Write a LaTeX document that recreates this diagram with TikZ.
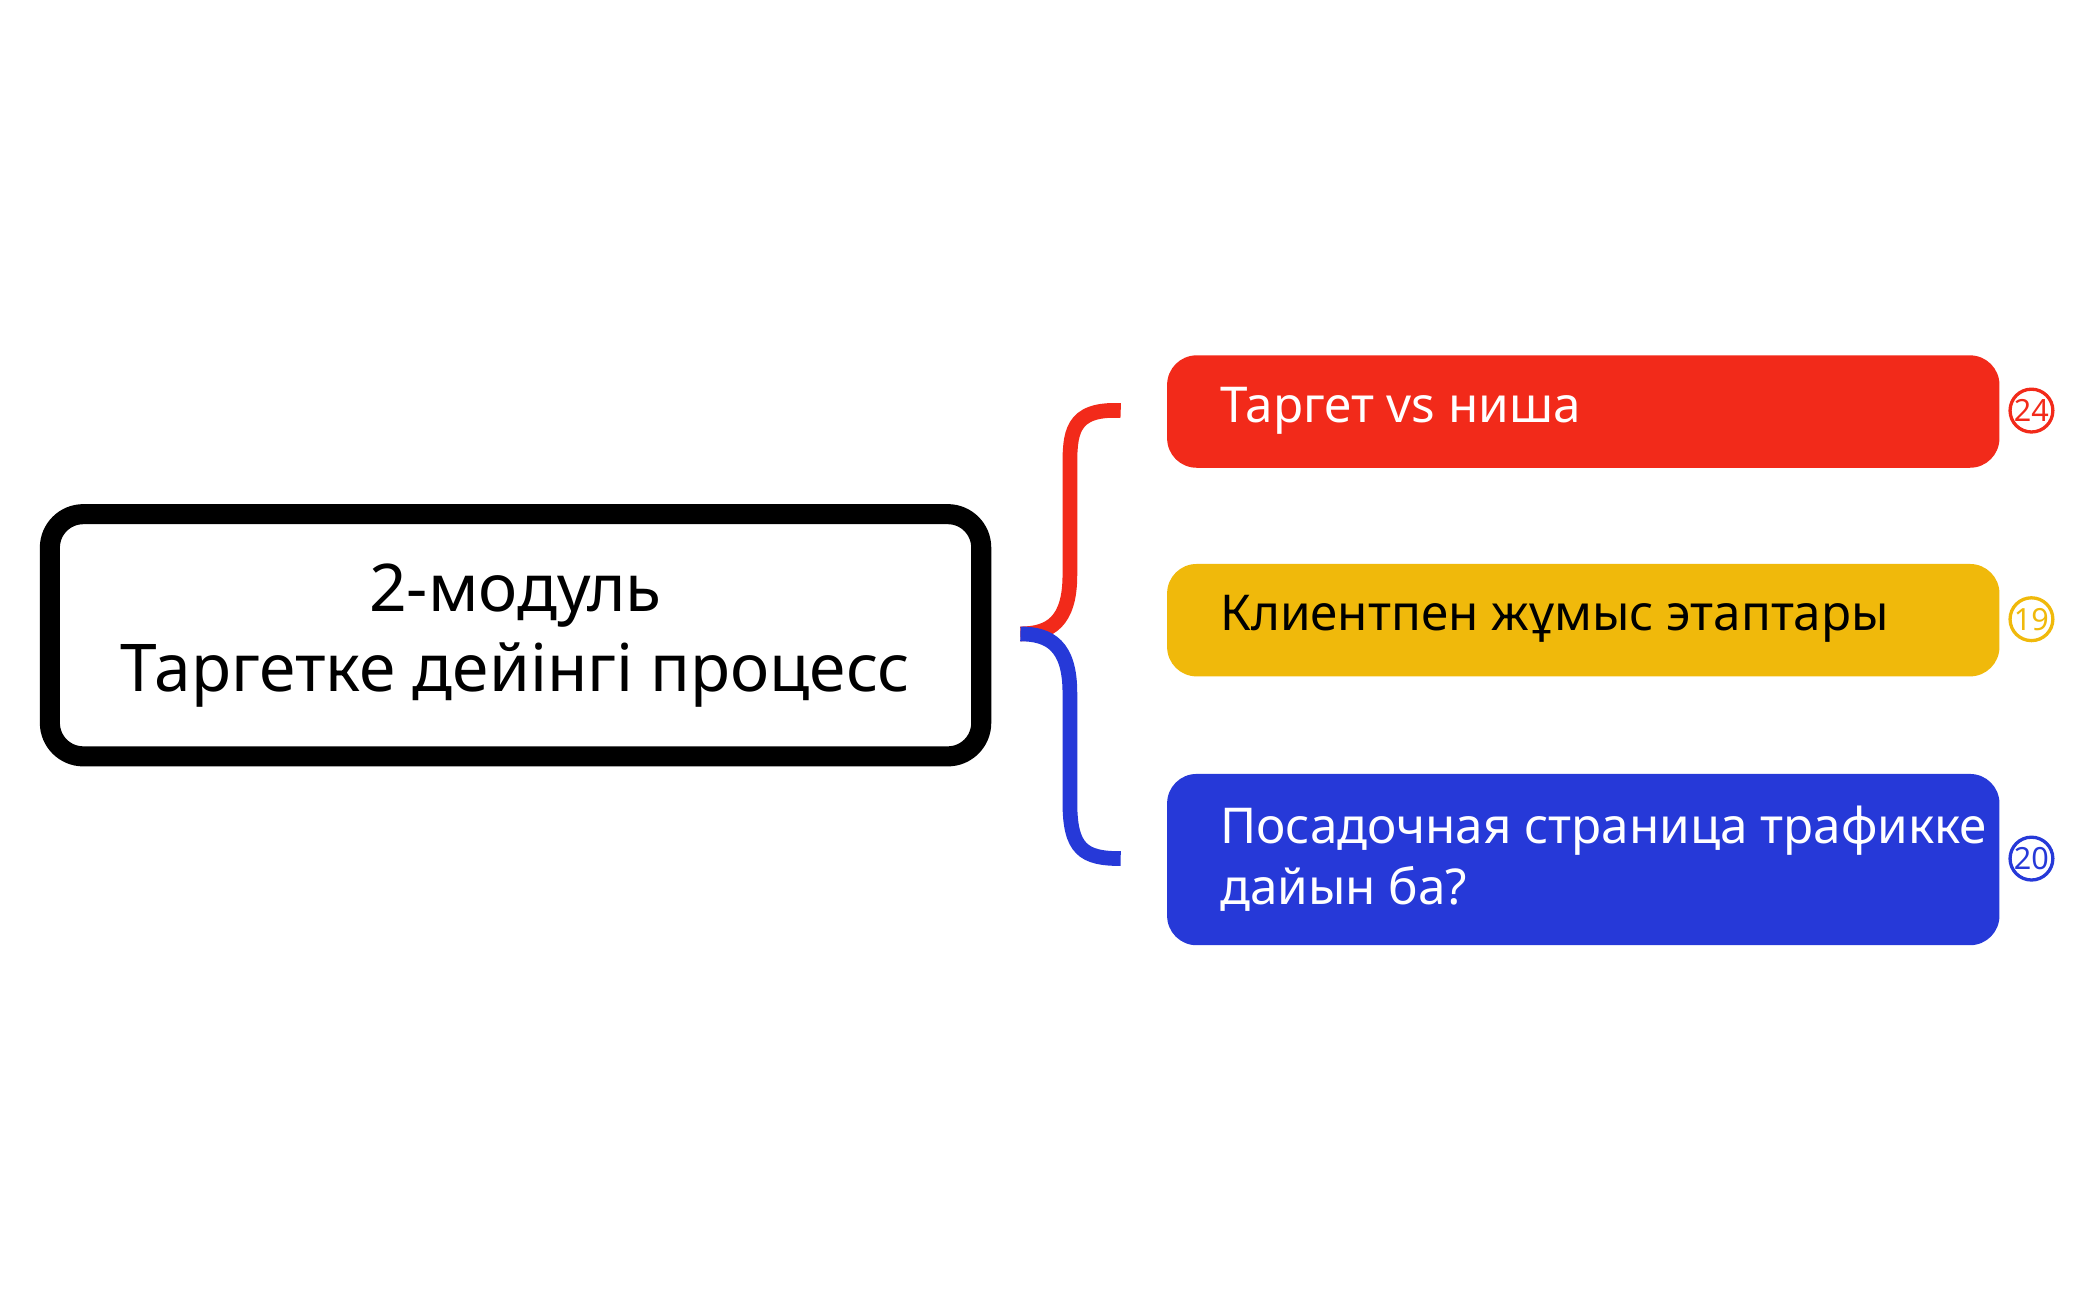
\documentclass[tikz,border=0pt]{standalone}
\usepackage{fontspec}
\setmainfont{Noto Sans}
\definecolor{cred}{HTML}{F22A1A}
\definecolor{cyel}{HTML}{F0B90B}
\definecolor{cblue}{HTML}{2639D8}
\begin{document}
\begin{tikzpicture}[x=0.01cm,y=-0.01cm,
  topic/.style={rounded corners=2.2mm,minimum width=6.22cm,text width=5.5cm,align=left,anchor=north west,font=\fontsize{10.5}{13.5}\selectfont},
  badge/.style={circle,draw,line width=0.7pt,minimum size=0.32cm,inner sep=0pt,font=\fontsize{6.5}{7}\selectfont}]
\useasboundingbox (0,0) rectangle (1568,972);
\node[draw=black,line width=1.5mm,rounded corners=2.5mm,minimum width=6.96cm,minimum height=1.81cm,align=center,font=\fontsize{14}{17}\selectfont] (main) at (385.5,475) {2-модуль\\Таргетке дейінгі процесс};
\node[topic,fill=cred,text=white,minimum height=0.84cm] (t1) at (872,265) {};
\node[anchor=west,text=white,font=\fontsize{10.5}{13.5}\selectfont] (l1) at (900,307) {Таргет vs ниша};
\node[topic,fill=cyel,minimum height=0.84cm] (t2) at (872,421) {};
\node[anchor=west,font=\fontsize{10.5}{13.5}\selectfont] (l2) at (900,463) {Клиентпен жұмыс этаптары};
\node[topic,fill=cblue,minimum height=1.28cm] (t3) at (872,578) {};
\node[anchor=west,text=white,align=left,font=\fontsize{10.5}{13}\selectfont] (l3) at (900,642) {Посадочная страница трафикке\\дайын ба?};
\node[badge,draw=cred,text=cred] (b1) at (1519,307) {24};
\node[badge,draw=cyel,text=cyel] (b2) at (1519,463) {19};
\node[badge,draw=cblue,text=cblue] (b3) at (1519,642) {20};
\coordinate (r) at (838,307);
\coordinate (bl) at (838,642);
\coordinate (m) at (763,474);
\draw[cred,line width=1.1mm] (r) .. controls (800,305) and (800,325) .. (800,350) -- (800,430) .. controls (800,465) and (785,474) .. (m);
\draw[cblue,line width=1.1mm] (m) .. controls (785,474) and (800,483) .. (800,518) -- (800,600) .. controls (800,635) and (810,642) .. (bl);
\end{tikzpicture}
\end{document}
